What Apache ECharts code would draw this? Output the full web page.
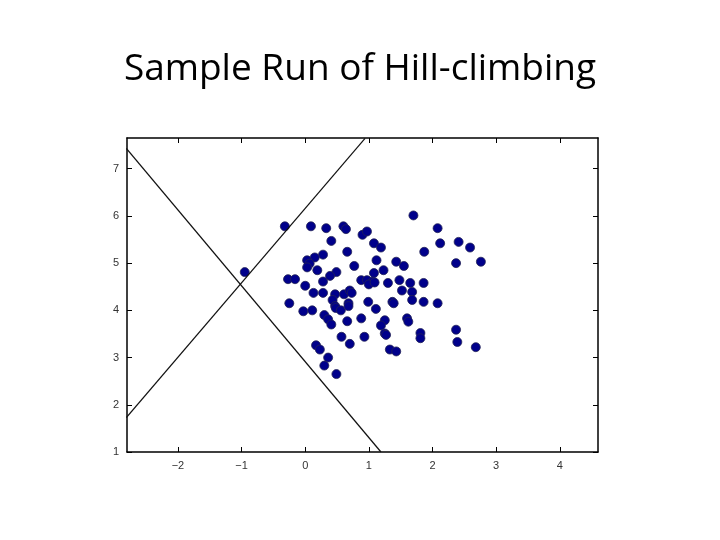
<!DOCTYPE html>
<html><head><meta charset="utf-8">
<script src="https://cdn.jsdelivr.net/npm/echarts@6/dist/echarts.min.js"></script>
<style>html,body{margin:0;padding:0;background:#fff}#c{width:720px;height:540px}</style>
</head><body><div id="c"></div>
<script>
const pointsX = [-0.32,0.09,0.33,0.60,0.64,0.41,0.90,0.97,1.08,1.19,1.70,2.08,2.12,2.41,2.59,1.87,2.76,2.37,0.66,0.28,0.15,0.03,0.07,0.03,0.77,1.12,1.43,1.55,1.23,1.08,0.19,0.49,0.39,-0.95,-0.27,-0.16,0.00,0.28,0.88,0.97,1.06,1.00,1.09,1.30,1.48,1.65,1.86,1.52,1.68,0.13,0.28,0.47,0.61,0.70,0.73,0.43,-0.25,0.47,0.48,0.56,0.68,0.68,0.99,1.11,1.37,1.39,1.68,1.86,2.08,-0.03,0.11,0.30,0.36,0.41,0.66,0.88,1.25,1.19,1.60,1.62,1.25,1.27,1.81,1.81,2.37,2.39,2.68,0.57,0.93,0.70,0.17,0.23,1.33,1.43,0.36,0.30,0.49];
const pointsY = [5.78,5.78,5.74,5.78,5.72,5.47,5.60,5.67,5.42,5.33,6.01,5.74,5.42,5.45,5.33,5.24,5.03,5.00,5.24,5.18,5.12,5.06,4.99,4.91,4.94,5.06,5.03,4.94,4.85,4.79,4.85,4.81,4.73,4.81,4.66,4.66,4.52,4.61,4.64,4.64,4.61,4.55,4.59,4.58,4.64,4.58,4.58,4.42,4.39,4.37,4.37,4.34,4.34,4.42,4.37,4.22,4.15,4.09,4.05,4.00,4.15,4.09,4.18,4.03,4.18,4.15,4.22,4.18,4.15,3.98,4.00,3.90,3.81,3.70,3.77,3.83,3.79,3.68,3.83,3.76,3.51,3.48,3.52,3.41,3.59,3.33,3.22,3.44,3.44,3.29,3.26,3.17,3.17,3.13,3.00,2.83,2.65];
const line1 = [[-2.81,7.43],[1.19,1.0]];
const line2 = [[-2.81,1.73],[0.94,7.64]];
const xTicks = [-2,-1,0,1,2,3,4];
const yTicks = [1,2,3,4,5,6,7];

const chart = echarts.init(document.getElementById('c'));
const frame = {show:true,onZero:false,lineStyle:{color:'#000',width:1.5}};
const tick = v => ({show:true,inside:true,length:5,customValues:v,lineStyle:{color:'#000'}});
chart.setOption({
  animation:false,
  title:{text:'Sample Run of Hill-climbing',left:'center',top:46,
    textStyle:{fontFamily:'Open Sans',fontWeight:'normal',fontSize:37,color:'#000'}},
  grid:{left:127,right:122,top:138,bottom:88},
  xAxis:[
    {type:'value',min:-2.8,max:4.6,position:'bottom',axisLine:frame,splitLine:{show:false},
      axisLabel:{fontSize:11,color:'#333',margin:8,customValues:xTicks,formatter:v=>v<0?'\u2212'+(-v):String(v)},
      axisTick:tick(xTicks)},
    {type:'value',min:-2.8,max:4.6,position:'top',axisLine:frame,splitLine:{show:false},
      axisLabel:{show:false},axisTick:tick(xTicks)}
  ],
  yAxis:[
    {type:'value',min:1,max:7.65,position:'left',axisLine:frame,splitLine:{show:false},
      axisLabel:{fontSize:11,color:'#333',margin:8,customValues:yTicks},axisTick:tick(yTicks)},
    {type:'value',min:1,max:7.65,position:'right',axisLine:frame,splitLine:{show:false},
      axisLabel:{show:false},axisTick:tick(yTicks)}
  ],
  series:[
    {type:'line',data:line1,symbol:'none',clip:true,lineStyle:{color:'#111',width:1.2}},
    {type:'line',data:line2,symbol:'none',clip:true,lineStyle:{color:'#111',width:1.2}},
    {type:'scatter',data:pointsX.map((x,i)=>[x,pointsY[i]]),symbolSize:9,
      itemStyle:{color:'#00008b',borderColor:'#222255',borderWidth:0.8,opacity:1}}
  ]
});
</script></body></html>
